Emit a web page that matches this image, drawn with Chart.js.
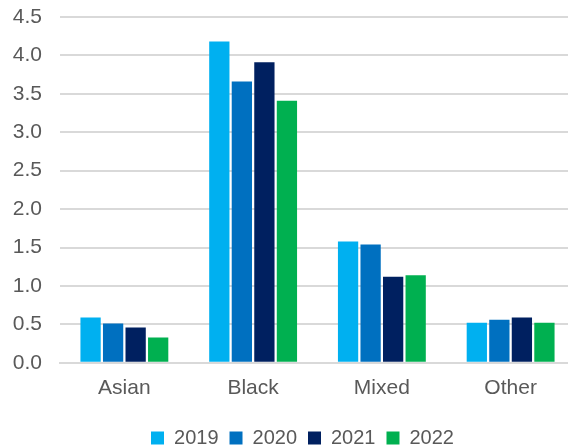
<!DOCTYPE html>
<html>
<head>
<meta charset="utf-8">
<title>Rate by ethnic group</title>
<script src="https://cdn.jsdelivr.net/npm/chart.js@4/dist/chart.umd.min.js"></script>
<style>
  html, body { margin: 0; padding: 0; background: #fff; overflow: hidden; }
  #wrap { width: 576px; height: 446px; }
</style>
</head>
<body>
<div id="wrap"><canvas id="ethChart" width="576" height="446"></canvas></div>
<script>
// Categories and yearly values
const groups = ["Asian", "Black", "Mixed", "Other"];
const years = ["2019", "2020", "2021", "2022"];
const values2019 = [0.59, 4.18, 1.58, 0.52];
const values2020 = [0.51, 3.66, 1.54, 0.56];
const values2021 = [0.46, 3.91, 1.12, 0.59];
const values2022 = [0.33, 3.41, 1.14, 0.52];
const yTicks = [0, 0.5, 1.0, 1.5, 2.0, 2.5, 3.0, 3.5, 4.0, 4.5];

const colours = ["#00B0F0", "#0070C0", "#002060", "#00B050"];
const textColour = "#595959";
const gridColour = "#D9D9D9";
const fontFamily = "Liberation Sans, Arial, sans-serif";

// nudge the legend to the right so it sits under the plot
const LEGEND_DX = 9;
const legendShift = {
  id: "legendShift",
  afterLayout(chart) {
    const lg = chart.legend;
    if (lg) {
      lg.left += LEGEND_DX;
      lg.right += LEGEND_DX;
    }
  }
};

const series = [values2019, values2020, values2021, values2022];

const ctx = document.getElementById("ethChart").getContext("2d");
new Chart(ctx, {
  type: "bar",
  data: {
    labels: groups,
    datasets: years.map((y, i) => ({
      label: y,
      data: series[i],
      backgroundColor: colours[i],
      borderWidth: 0,
      barPercentage: 0.9,
      categoryPercentage: 0.70
    }))
  },
  options: {
    responsive: false,
    animation: false,
    layout: { padding: { left: 12, right: 1, top: 17, bottom: -12 } },
    scales: {
      x: {
        grid: { display: false },
        border: { display: true, color: gridColour, width: 2 },
        ticks: {
          color: textColour,
          font: { family: fontFamily, size: 21 },
          padding: 5
        },
        afterFit(axis) { axis.height += 11; }
      },
      y: {
        min: 0,
        max: 4.5,
        afterBuildTicks(axis) {
          axis.ticks = yTicks.map(v => ({ value: v }));
        },
        afterFit(axis) {
          axis.width = 48;
          axis.paddingTop = 0;
          axis.paddingBottom = 0;
        },
        grid: { color: gridColour, lineWidth: 2, drawTicks: false },
        border: { display: false },
        ticks: {
          color: textColour,
          font: { family: fontFamily, size: 21 },
          padding: 18,
          callback: v => Number(v).toFixed(1)
        }
      }
    },
    plugins: {
      legend: {
        position: "bottom",
        labels: {
          color: textColour,
          font: { family: fontFamily, size: 20 },
          boxWidth: 13,
          boxHeight: 13,
          padding: 11
        }
      },
      tooltip: { enabled: false }
    }
  },
  plugins: [legendShift]
});
</script>
</body>
</html>
